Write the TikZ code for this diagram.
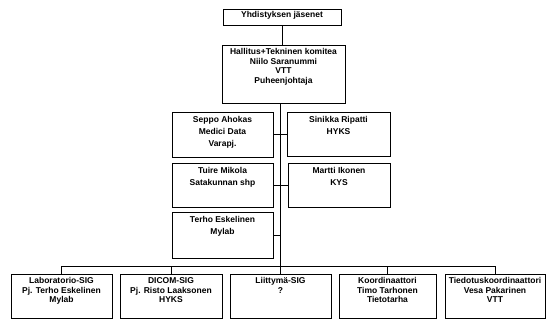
\documentclass[tikz,border=0pt]{standalone}
\usepackage{fontspec}
\setmainfont{Liberation Sans}
\usetikzlibrary{fit}
\tikzset{
  orgbox/.style={draw=black, line width=0.9pt, inner sep=0pt, fill=white},
  orgtxt/.style={align=center, inner sep=0pt, font=\bfseries\fontsize{8.5}{9.5}\selectfont, anchor=north},
  midtxt/.style={orgtxt, font=\bfseries\fontsize{8.5}{12}\selectfont},
  link/.style={draw=black, line width=0.9pt}
}
\begin{document}
\begin{tikzpicture}[x=1pt,y=-1pt]
\useasboundingbox (0,0) rectangle (547,320);
% boxes
\node[orgbox, fit={(223,9) (341,25)}] (top) {};
\node[orgtxt] (top-t) at ([yshift=-3pt]top.north) {Yhdistyksen jäsenet};
\node[orgbox, fit={(222,45) (345,103)}] (hall) {};
\node[orgtxt] (hall-t) at ([yshift=-4pt]hall.north) {Hallitus+Tekninen komitea\\Niilo Saranummi\\VTT\\Puheenjohtaja};
\node[orgbox, fit={(172,112) (273,157)}] (seppo) {};
\node[midtxt] (seppo-t) at ([yshift=-5pt]seppo.north) {Seppo Ahokas\\Medici Data\\Varapj.};
\node[orgbox, fit={(287,112) (390,156)}] (sinikka) {};
\node[midtxt] (sinikka-t) at ([yshift=-5pt]sinikka.north) {Sinikka Ripatti\\HYKS};
\node[orgbox, fit={(172,163) (273,207)}] (tuire) {};
\node[midtxt] (tuire-t) at ([yshift=-5pt]tuire.north) {Tuire Mikola\\Satakunnan shp};
\node[orgbox, fit={(288,163) (390,207)}] (martti) {};
\node[midtxt] (martti-t) at ([yshift=-5pt]martti.north) {Martti Ikonen\\KYS};
\node[orgbox, fit={(172,212) (273,258)}] (terho) {};
\node[midtxt] (terho-t) at ([yshift=-5pt]terho.north) {Terho Eskelinen\\Mylab};
\node[orgbox, fit={(11,274) (112,318)}] (lab) {};
\node[orgtxt] (lab-t) at ([yshift=-4pt]lab.north) {Laboratorio-SIG\\Pj. Terho Eskelinen\\Mylab};
\node[orgbox, fit={(120,274) (222,318)}] (dicom) {};
\node[orgtxt] (dicom-t) at ([yshift=-4pt]dicom.north) {DICOM-SIG\\Pj. Risto Laaksonen\\HYKS};
\node[orgbox, fit={(230,274) (331,318)}] (liit) {};
\node[orgtxt] (liit-t) at ([yshift=-4pt]liit.north) {Liittymä-SIG\\?};
\node[orgbox, fit={(339,274) (436,318)}] (koord) {};
\node[orgtxt] (koord-t) at ([yshift=-4pt]koord.north) {Koordinaattori\\Timo Tarhonen\\Tietotarha};
\node[orgbox, fit={(445,274) (545,318)}] (tied) {};
\node[orgtxt] (tied-t) at ([yshift=-4pt]tied.north) {Tiedotuskoordinaattori\\Vesa Pakarinen\\VTT};
% connectors
\coordinate (bus) at (0,266.5);
\draw[link] (top.south) -- (top.south |- hall.north);
\draw[link] (hall.south -| liit.north) -- (liit.north);
\draw[link] (seppo.east) -- (seppo.east -| sinikka.west);
\draw[link] (tuire.east) -- (tuire.east -| martti.west);
\draw[link] (terho.east) -- (terho.east -| liit.north);
\draw[link] (lab.north) -- (lab.north |- bus) -- (tied.north |- bus) -- (tied.north);
\draw[link] (dicom.north) -- (dicom.north |- bus);
\draw[link] (koord.north) -- (koord.north |- bus);
\end{tikzpicture}
\end{document}
